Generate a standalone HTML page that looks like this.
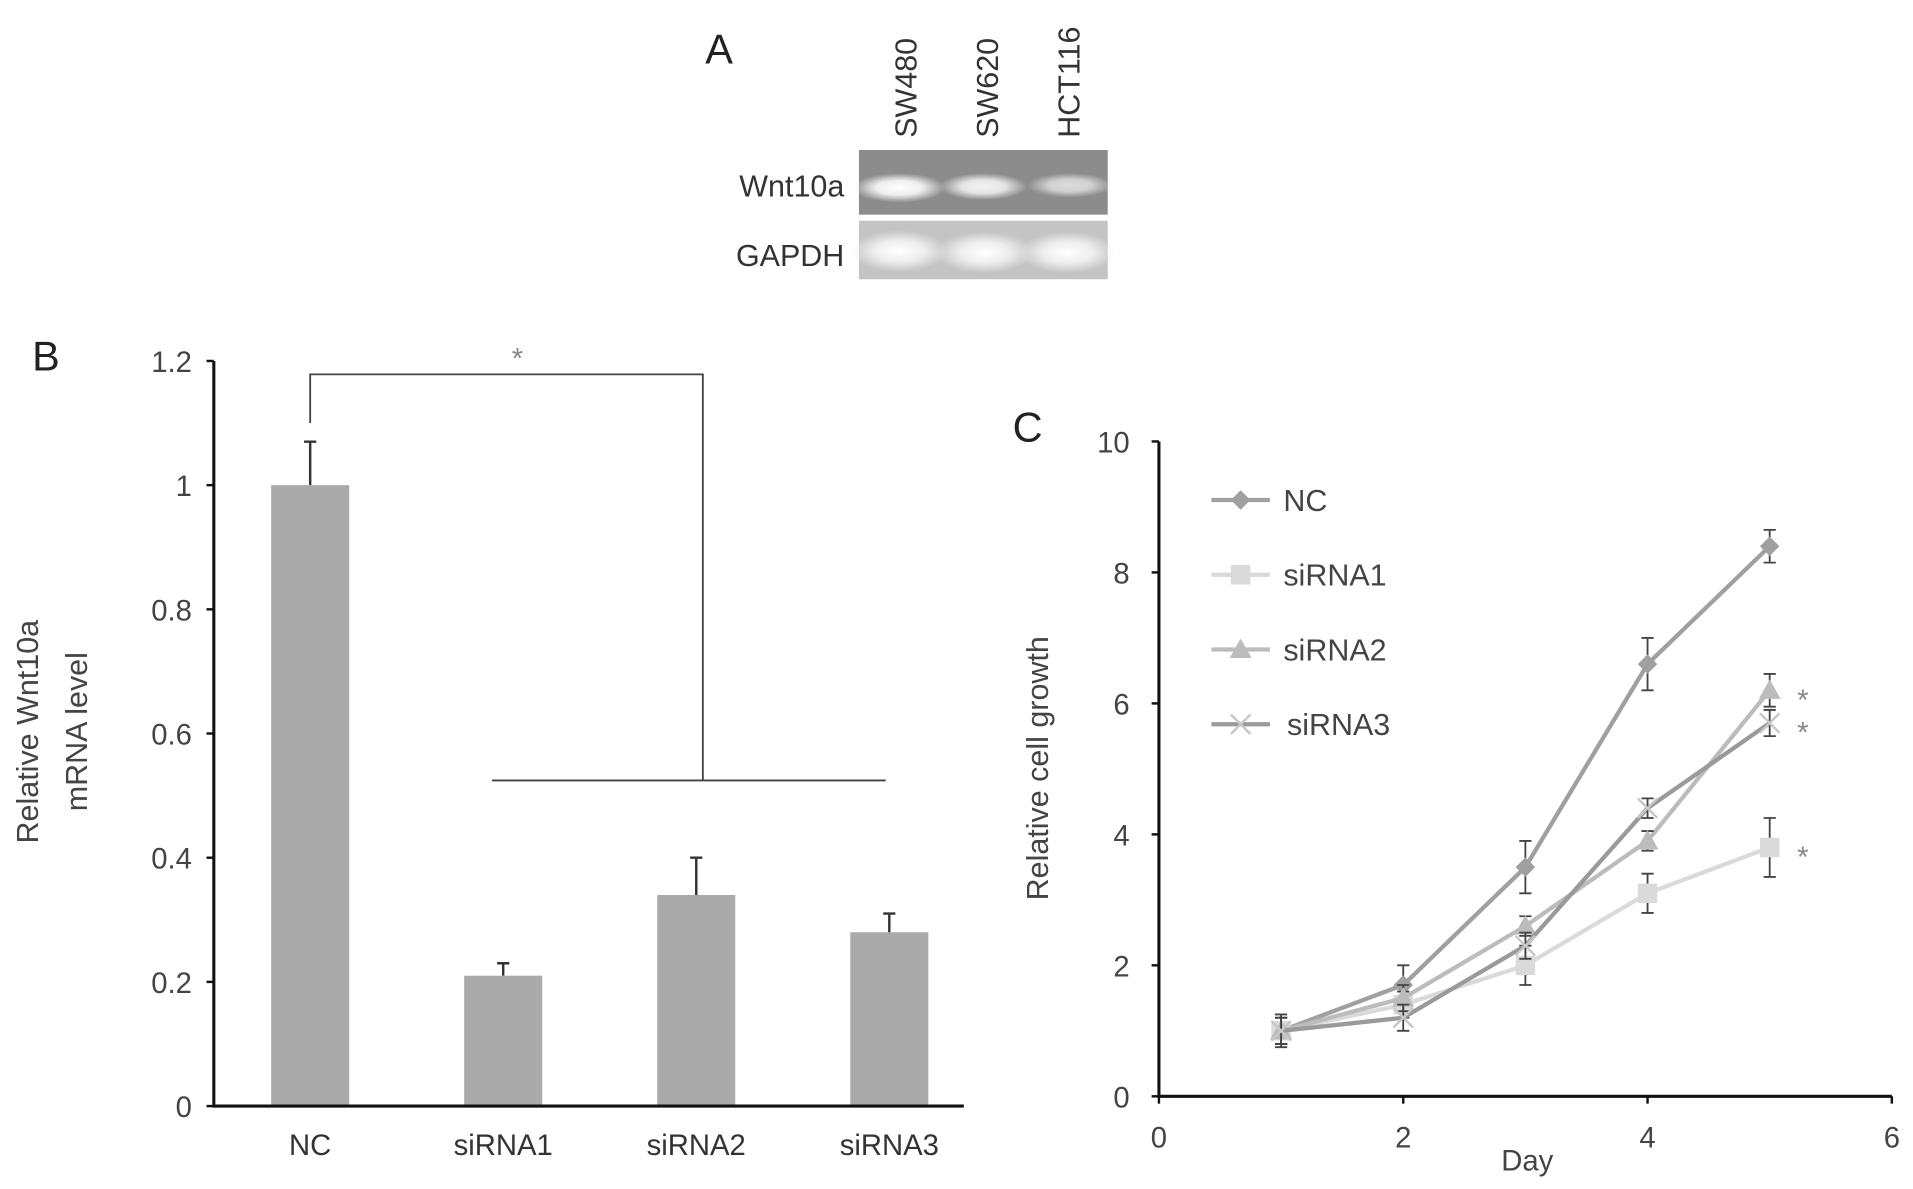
<!DOCTYPE html>
<html><head><meta charset="utf-8"><style>
html,body{margin:0;padding:0;background:#fff;}
svg{display:block;font-family:"Liberation Sans",sans-serif;}
</style></head><body>
<svg id="fig" width="1913" height="1189" viewBox="0 0 1568 975" xmlns="http://www.w3.org/2000/svg">
<defs>
<radialGradient id="band" cx="50%" cy="50%" r="50%"><stop offset="0" stop-color="#fff"/><stop offset="0.5" stop-color="#eeeeee"/><stop offset="1" stop-color="#eeeeee" stop-opacity="0"/></radialGradient>
</defs>
<g id="panelA">
<text x="578" y="52" font-size="34" fill="#222">A</text>
<text transform="translate(751,113) rotate(-90)" font-size="25" fill="#333">SW480</text>
<text transform="translate(818,113) rotate(-90)" font-size="25" fill="#333">SW620</text>
<text transform="translate(885,113) rotate(-90)" font-size="25" fill="#333">HCT116</text>
<text x="692" y="161" font-size="25" fill="#333" text-anchor="end">Wnt10a</text>
<text x="692" y="218" font-size="25" fill="#333" text-anchor="end">GAPDH</text>
<rect x="704" y="123" width="204" height="53" fill="#8c8c8c"/>
<ellipse cx="737" cy="154" rx="38" ry="12" fill="url(#band)"/>
<ellipse cx="806" cy="153" rx="36" ry="11" fill="url(#band)" opacity="0.9"/>
<ellipse cx="877" cy="152" rx="35" ry="10" fill="url(#band)" opacity="0.7"/>
<rect x="704" y="181" width="204" height="48" fill="#c4c4c4"/>
<ellipse cx="737" cy="206" rx="40" ry="17" fill="url(#band)"/>
<ellipse cx="807" cy="207" rx="40" ry="17" fill="url(#band)"/>
<ellipse cx="875" cy="207" rx="40" ry="17" fill="url(#band)"/>
</g>
<g id="chartB"></g>
<g id="chartC"></g>
</svg>
<script>
const barCategories = ["NC","siRNA1","siRNA2","siRNA3"];
const barValues = [1.0,0.21,0.34,0.28];
const barErrors = [0.07,0.02,0.06,0.03];
const barTicks = [0,0.2,0.4,0.6,0.8,1,1.2];
const barTickLabels = ["0","0.2","0.4","0.6","0.8","1","1.2"];

const days = [1,2,3,4,5];
const seriesNames = ["NC","siRNA1","siRNA2","siRNA3"];
const ncValues = [1.0,1.7,3.5,6.6,8.4];
const ncErrors = [0.25,0.3,0.4,0.4,0.25];
const si1Values = [1.0,1.4,2.0,3.1,3.8];
const si1Errors = [0.2,0.2,0.3,0.3,0.45];
const si2Values = [1.0,1.5,2.6,3.9,6.2];
const si2Errors = [0.2,0.2,0.15,0.15,0.25];
const si3Values = [1.0,1.2,2.3,4.4,5.7];
const si3Errors = [0.2,0.2,0.2,0.15,0.2];
const lineYTicks = [0,2,4,6,8,10];
const lineXTicks = [0,2,4,6];

const NS="http://www.w3.org/2000/svg";
function mk(parent,tag,attrs,text){const e=document.createElementNS(NS,tag);for(const k in attrs)e.setAttribute(k,attrs[k]);if(text!==undefined)e.textContent=text;parent.appendChild(e);return e;}

// Chart B
const gB=document.getElementById('chartB');
const bx0=175,bx1=790,by0=907,byTop=296;
const yB=v=>by0-(v/1.2)*(by0-byTop);
const xB=i=>254+i*158.3;
const bw=64;
mk(gB,'text',{x:26,y:304,'font-size':34,fill:'#222'},'B');
barValues.forEach((v,i)=>{
  const r=mk(gB,'rect',{x:xB(i)-bw/2,y:yB(v),width:bw,height:by0-yB(v),fill:'#aaaaaa'});
  
  
  const e=mk(gB,'path',{d:`M${xB(i)},${yB(v)}V${yB(v+barErrors[i])}M${xB(i)-5},${yB(v+barErrors[i])}H${xB(i)+5}`,stroke:'#333','stroke-width':2,fill:'none'});
  
  
  const t=mk(gB,'text',{x:xB(i),y:947,'font-size':24,fill:'#333','text-anchor':'middle'},barCategories[i]);
  
  
});
mk(gB,'path',{d:`M${bx0},${byTop}V${by0}H${bx1}`,stroke:'#111','stroke-width':2.5,fill:'none'});
barTicks.forEach((v,i)=>{
  mk(gB,'line',{x1:bx0-6,x2:bx0,y1:yB(v),y2:yB(v),stroke:'#111','stroke-width':2});
  const t=mk(gB,'text',{x:157,y:yB(v)+9,'font-size':24,fill:'#444','text-anchor':'end'},barTickLabels[i]);
  
  
});
const yt=mk(gB,'text',{transform:'translate(31,600) rotate(-90)','font-size':25,fill:'#444','text-anchor':'middle'},'Relative Wnt10a');


const yt2=mk(gB,'text',{transform:'translate(71,600) rotate(-90)','font-size':25,fill:'#444','text-anchor':'middle'},'mRNA level');


const br=mk(gB,'path',{d:`M254,347V307H576V640M403,640H726`,stroke:'#444','stroke-width':1.5,fill:'none'});


mk(gB,'text',{x:424,y:302,'font-size':24,fill:'#888','text-anchor':'middle'},'*');

// Chart C
const gC=document.getElementById('chartC');
const cx0=950,cx6=1551,cy0=899,cy10=362;
const xC=d=>cx0+(d/6)*(cx6-cx0);
const yC=v=>cy0-(v/10)*(cy0-cy10);
mk(gC,'text',{x:830,y:362,'font-size':34,fill:'#222'},'C');
mk(gC,'path',{d:`M${cx0},${cy10}V${cy0}H${cx6}`,stroke:'#111','stroke-width':2.5,fill:'none'});
lineYTicks.forEach(v=>{
  mk(gC,'line',{x1:cx0-6,x2:cx0,y1:yC(v),y2:yC(v),stroke:'#111','stroke-width':2});
  const t=mk(gC,'text',{x:926,y:yC(v)+9,'font-size':24,fill:'#444','text-anchor':'end'},String(v));
  
  
});
lineXTicks.forEach(v=>{
  mk(gC,'line',{x1:xC(v),x2:xC(v),y1:cy0,y2:cy0+6,stroke:'#111','stroke-width':2});
  const t=mk(gC,'text',{x:xC(v),y:941,'font-size':24,fill:'#444','text-anchor':'middle'},String(v));
  
  
});
const dx=mk(gC,'text',{x:1252,y:960,'font-size':24,fill:'#444','text-anchor':'middle'},'Day');


const yc=mk(gC,'text',{transform:'translate(859,630) rotate(-90)','font-size':25,fill:'#444','text-anchor':'middle'},'Relative cell growth');



const series=[[ncValues,ncErrors,'#a0a0a0','diamond'],[si1Values,si1Errors,'#dadada','square'],[si2Values,si2Errors,'#bcbcbc','triangle'],[si3Values,si3Errors,'#9a9a9a','cross']];
function marker(g,type,x,y,c){
  if(type==='diamond')return mk(g,'path',{d:`M${x},${y-8}L${x+8},${y}L${x},${y+8}L${x-8},${y}Z`,fill:c});
  if(type==='square')return mk(g,'rect',{x:x-8,y:y-8,width:16,height:16,fill:c});
  if(type==='triangle')return mk(g,'path',{d:`M${x},${y-9}L${x+9},${y+7}L${x-9},${y+7}Z`,fill:c});
  return mk(g,'path',{d:`M${x-8},${y-8}L${x+8},${y+8}M${x+8},${y-8}L${x-8},${y+8}`,stroke:'#c8c8c8','stroke-width':2,fill:'none'});
}
series.forEach((s,si)=>{
  const [vals,errs,col,mt]=s;
  const g=mk(gC,'g',{});
  
  
  mk(g,'polyline',{points:vals.map((v,i)=>xC(days[i])+','+yC(v)).join(' '),stroke:col,'stroke-width':3.5,fill:'none'});
  vals.forEach((v,i)=>{
    const x=xC(days[i]);
    mk(g,'path',{d:`M${x},${yC(v-errs[i])}V${yC(v+errs[i])}M${x-5},${yC(v-errs[i])}H${x+5}M${x-5},${yC(v+errs[i])}H${x+5}`,stroke:'#444','stroke-width':1.5,fill:'none'});
    const m=marker(g,mt,x,yC(v),col);
    
    
  });
  const ly=410+si*61.3;
  const lg=mk(gC,'g',{});
  
  
  mk(lg,'line',{x1:993,x2:1041,y1:ly,y2:ly,stroke:col,'stroke-width':3.5});
  marker(lg,mt,1017,ly,col);
  mk(lg,'text',{x:si===3?1055:1052,y:ly+9,'font-size':25,fill:'#444'},seriesNames[si]);
  if(si>0){
    const st=mk(gC,'text',{x:1478,y:yC(vals[4])+16,'font-size':24,fill:'#888','text-anchor':'middle'},'*');
    
    
  }
});
</script>
</body></html>
